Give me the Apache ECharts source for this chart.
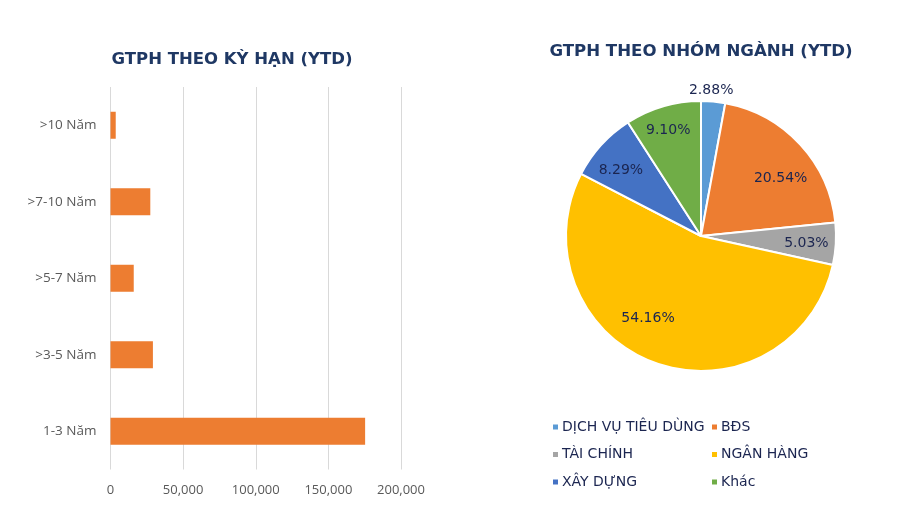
<!DOCTYPE html>
<html>
<head>
<meta charset="utf-8">
<script src="https://cdn.jsdelivr.net/npm/echarts@6/dist/echarts.min.js"></script>
<style>
  html, body { margin: 0; padding: 0; background: #fff; }
  #chart { width: 905px; height: 511px; }
</style>
</head>
<body>
<div id="chart"></div>
<script>
const chart = echarts.init(document.getElementById('chart'))

// GTPH theo kỳ hạn (bar)
const termCategories = ['1-3 Năm', '>3-5 Năm', '>5-7 Năm', '>7-10 Năm', '>10 Năm']
const termValues = [175300, 29200, 16000, 27400, 3600]
const termTicks = { min: 0, max: 200000, interval: 50000 }

// GTPH theo nhóm ngành (pie)
const sectorNames = ['DỊCH VỤ TIÊU DÙNG', 'BĐS', 'TÀI CHÍNH', 'NGÂN HÀNG', 'XÂY DỰNG', 'Khác']
const sectorShares = [2.88, 20.54, 5.03, 54.16, 8.29, 9.10]
const sectorColors = ['#5B9BD5', '#ED7D31', '#A5A5A5', '#FFC000', '#4472C4', '#70AD47']

const navy = '#1F3864'
const labelColor = '#1B2550'
const pieCenter = [701, 236]
const pieR = 135
// small nudges so the labels sit where the original placed them
const labelNudge = [[0, 0], [2, 14], [0, 1], [-17, -17], [-2, 5], [-3, -4]]

const sectorData = sectorNames.map((name, i) => ({
  name: name,
  value: sectorShares[i],
  itemStyle: { color: sectorColors[i] }
}))

const pctFormatter = p => p.value.toFixed(2) + '%'

const option = {
  animation: false,
  textStyle: { fontFamily: 'DejaVu Sans' },
  title: [
    {
      text: 'GTPH THEO KỲ HẠN (YTD)',
      left: 227, top: 46, textAlign: 'center',
      textStyle: { color: navy, fontSize: 16.5, fontWeight: 'bold', fontFamily: 'DejaVu Sans' }
    },
    {
      text: 'GTPH THEO NHÓM NGÀNH (YTD)',
      left: 696, top: 38, textAlign: 'center',
      textStyle: { color: navy, fontSize: 16.6, fontWeight: 'bold', fontFamily: 'DejaVu Sans' }
    }
  ],
  grid: { left: 110.5, right: 504, top: 87, bottom: 41.5, containLabel: false },
  xAxis: {
    type: 'value',
    min: termTicks.min,
    max: termTicks.max,
    interval: termTicks.interval,
    axisLine: { show: false },
    axisTick: { show: false },
    splitLine: { lineStyle: { color: '#D9D9D9', width: 1 } },
    axisLabel: {
      color: '#595959', fontSize: 13, margin: 14, fontFamily: 'Open Sans',
      formatter: v => v.toLocaleString('en-US')
    }
  },
  yAxis: {
    type: 'category',
    data: termCategories,
    axisLine: { show: false },
    axisTick: { show: false },
    axisLabel: { color: '#595959', fontSize: 13.5, margin: 14, fontFamily: 'Open Sans' }
  },
  legend: [
    {
      orient: 'vertical', left: 546, top: 415, itemGap: 13.5,
      itemWidth: 7, itemHeight: 7, icon: 'rect',
      data: [sectorNames[0], sectorNames[2], sectorNames[4]],
      textStyle: { color: labelColor, fontSize: 14, fontFamily: 'DejaVu Sans', padding: [0, 0, 0, -2] }
    },
    {
      orient: 'vertical', left: 705, top: 415, itemGap: 13.5,
      itemWidth: 7, itemHeight: 7, icon: 'rect',
      data: [sectorNames[1], sectorNames[3], sectorNames[5]],
      textStyle: { color: labelColor, fontSize: 14, fontFamily: 'DejaVu Sans', padding: [0, 0, 0, -2] }
    }
  ],
  series: [
    {
      type: 'bar',
      data: termValues,
      barWidth: 27,
      itemStyle: { color: '#ED7D31' }
    },
    {
      type: 'pie',
      center: pieCenter,
      radius: [0, pieR],
      startAngle: 90,
      clockwise: true,
      data: sectorData,
      itemStyle: { borderColor: '#fff', borderWidth: 2 },
      label: { show: false },
      labelLine: { show: false }
    },
    {
      // inside labels
      type: 'pie',
      silent: true,
      legendHoverLink: false,
      center: pieCenter,
      radius: [pieR * 0.52, pieR],
      startAngle: 90,
      clockwise: true,
      data: sectorData.map((d, i) => ({
        name: d.name, value: d.value,
        label: { show: i !== 0, offset: labelNudge[i] }
      })),
      itemStyle: { color: 'rgba(0,0,0,0)' },
      label: {
        position: 'inside', formatter: pctFormatter,
        color: labelColor, fontSize: 14, fontFamily: 'DejaVu Sans'
      },
      labelLine: { show: false },
      emphasis: { disabled: true }
    },
    {
      // outside label for the small slice
      type: 'pie',
      silent: true,
      legendHoverLink: false,
      center: pieCenter,
      radius: [pieR, pieR + 16],
      startAngle: 90,
      clockwise: true,
      data: sectorData.map((d, i) => ({
        name: d.name, value: d.value,
        label: { show: i === 0, offset: [-3, 0] }
      })),
      itemStyle: { color: 'rgba(0,0,0,0)' },
      label: {
        position: 'inside', formatter: pctFormatter,
        color: labelColor, fontSize: 14, fontFamily: 'DejaVu Sans'
      },
      labelLine: { show: false },
      emphasis: { disabled: true }
    }
  ]
}

chart.setOption(option)
</script>
</body>
</html>
